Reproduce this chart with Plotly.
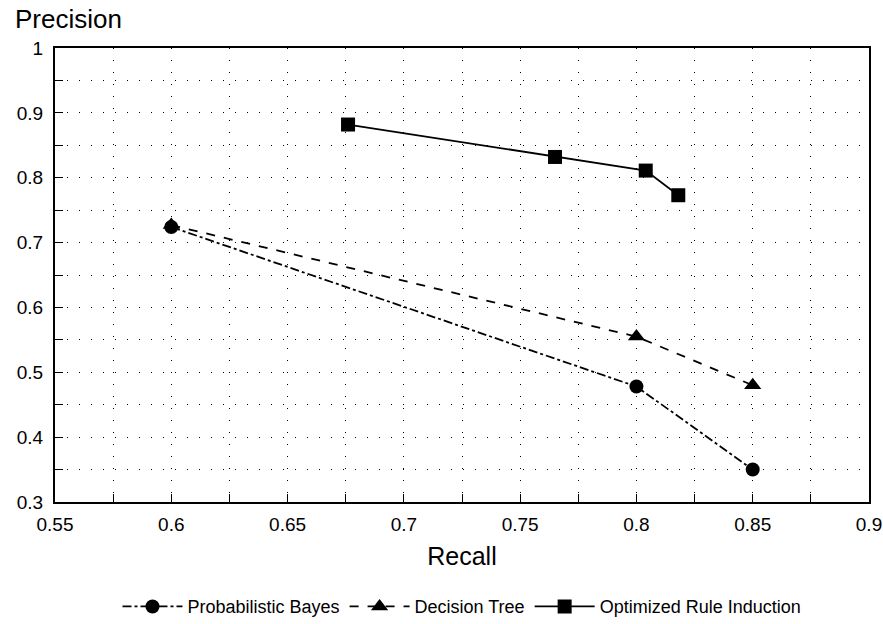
import plotly.graph_objects as go

bayes_recall = [0.6, 0.8, 0.85]
bayes_precision = [0.724, 0.478, 0.350]
tree_recall = [0.6, 0.8, 0.85]
tree_precision = [0.727, 0.555, 0.480]
rule_recall = [0.676, 0.765, 0.804, 0.818]
rule_precision = [0.882, 0.832, 0.811, 0.773]

x_ticks = [0.55, 0.6, 0.65, 0.7, 0.75, 0.8, 0.85, 0.9]
x_labels = ["0.55", "0.6", "0.65", "0.7", "0.75", "0.8", "0.85", "0.9"]
y_ticks = [0.3, 0.4, 0.5, 0.6, 0.7, 0.8, 0.9, 1.0]
y_labels = ["0.3", "0.4", "0.5", "0.6", "0.7", "0.8", "0.9", "1"]

FONT = "Liberation Sans, Arial, Helvetica, sans-serif"

fig = go.Figure()
fig.add_trace(go.Scatter(x=bayes_recall, y=bayes_precision, name="Probabilistic Bayes",
                         mode="lines+markers",
                         line=dict(color="black", width=1.8, dash="dashdot"),
                         marker=dict(symbol="circle", size=14, color="black")))
fig.add_trace(go.Scatter(x=tree_recall, y=tree_precision, name="Decision Tree",
                         mode="lines+markers",
                         line=dict(color="black", width=1.8, dash="dash"),
                         marker=dict(symbol="triangle-up", size=15, color="black")))
fig.add_trace(go.Scatter(x=rule_recall, y=rule_precision, name="Optimized Rule Induction",
                         mode="lines+markers",
                         line=dict(color="black", width=1.8),
                         marker=dict(symbol="square", size=14, color="black")))

axis_common = dict(showline=True, linecolor="black", linewidth=2, mirror=True,
                   ticks="inside", ticklen=8, tickcolor="black", tickwidth=1,
                   showgrid=True, gridcolor="black", gridwidth=1, griddash="1px,11px",
                   zeroline=False, automargin=False, ticklabeloverflow="allow",
                   tickfont=dict(size=19, color="black", family=FONT))

fig.update_xaxes(range=[0.55, 0.9], tickvals=x_ticks, ticktext=x_labels,
                 ticklabelstandoff=4,
                 minor=dict(dtick=0.025, tick0=0.55, ticks="inside", ticklen=8,
                            tickcolor="black", showgrid=True, gridcolor="black",
                            griddash="1px,11px", gridwidth=1),
                 title=dict(text="Recall", font=dict(size=25, color="black", family=FONT),
                            standoff=14),
                 **axis_common)
fig.update_yaxes(range=[0.3, 1.0], tickvals=y_ticks, ticktext=y_labels,
                 ticklabelstandoff=6,
                 minor=dict(dtick=0.05, tick0=0.3, ticks="inside", ticklen=8,
                            tickcolor="black", showgrid=True, gridcolor="black",
                            griddash="1px,11px", gridwidth=1),
                 **axis_common)

fig.add_annotation(text="Precision", xref="paper", yref="paper", x=-0.052, y=1.0,
                   yshift=29, xanchor="left", yanchor="middle", showarrow=False,
                   font=dict(size=26, color="black", family=FONT))

fig.update_layout(
    width=883, height=624,
    margin=dict(l=55, r=14, t=48, b=122, autoexpand=False),
    plot_bgcolor="white", paper_bgcolor="white",
    font=dict(family=FONT, color="black"),
    legend=dict(orientation="h", x=0.5, xanchor="center", y=-0.19, yanchor="top",
                font=dict(size=18, color="black", family=FONT), itemwidth=60,
                bgcolor="rgba(0,0,0,0)"),
)

fig.write_html("out.html", config={"displayModeBar": False},
               post_script="document.body.style.margin='0';document.body.style.overflow='hidden';")
